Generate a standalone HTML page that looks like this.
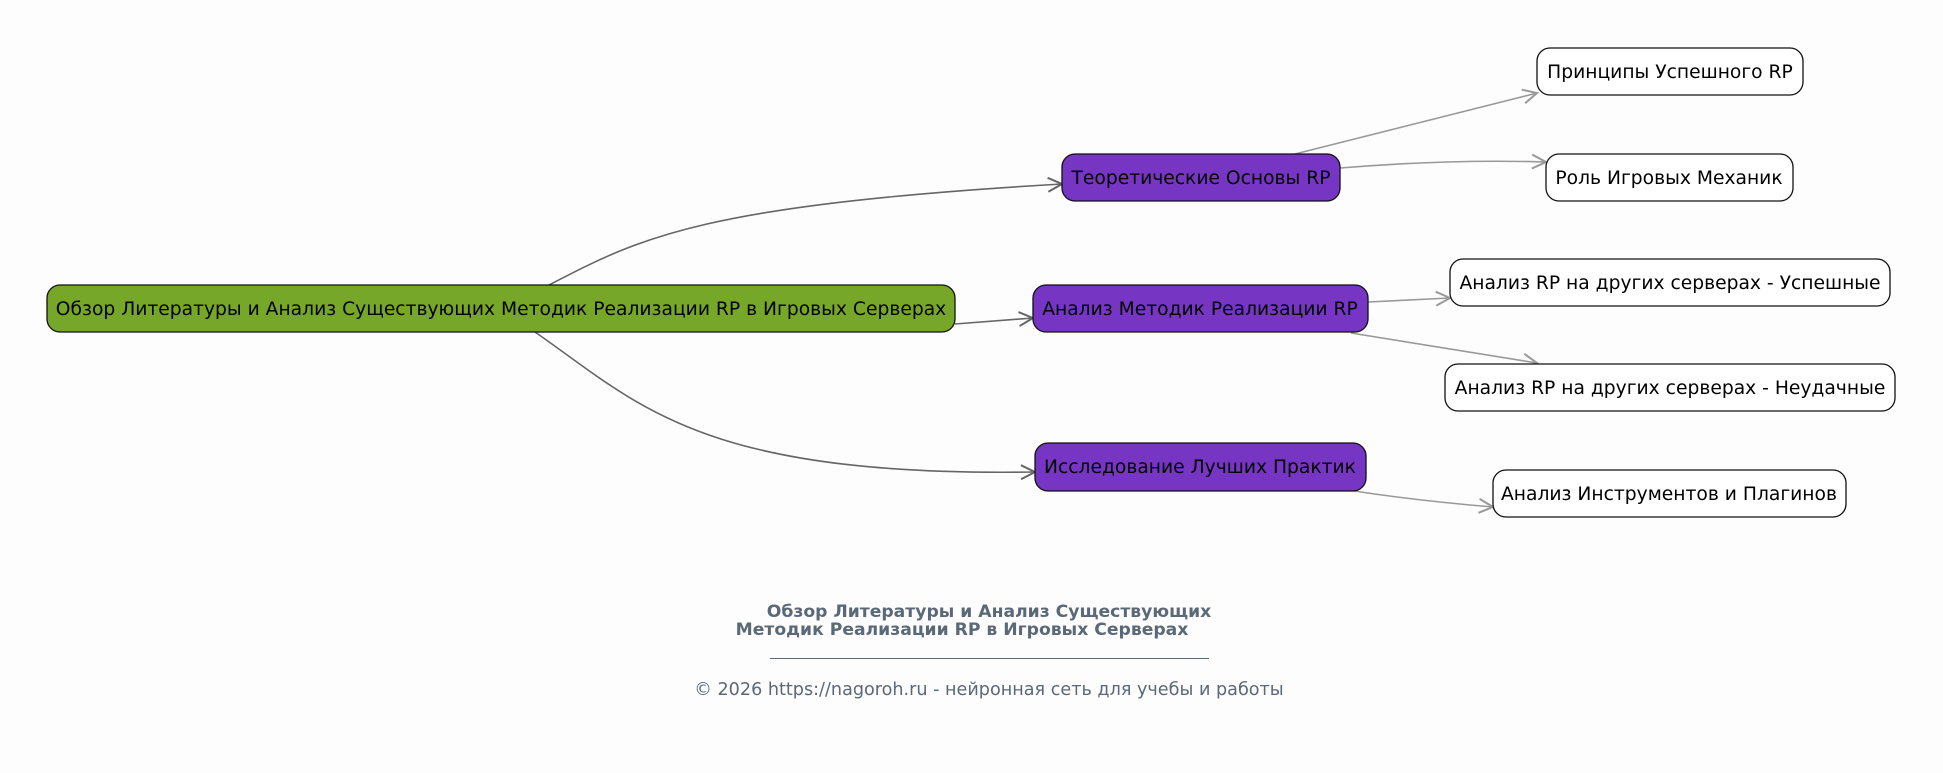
<!DOCTYPE html>
<html><head><meta charset="utf-8"><style>
html,body{margin:0;padding:0;background:#fdfdfd;}
svg{display:block;font-family:"DejaVu Sans","Liberation Sans",sans-serif;}
</style></head><body>
<svg width="1943" height="773" viewBox="0 0 1943 773" xmlns="http://www.w3.org/2000/svg">
<defs>
<marker id="a1" markerWidth="20" markerHeight="16" refX="17" refY="8" orient="auto" markerUnits="userSpaceOnUse">
<path d="M3,1 L17,8 L3,15" fill="none" stroke="#666" stroke-width="2"/></marker>
<marker id="a2" markerWidth="20" markerHeight="16" refX="17" refY="8" orient="auto" markerUnits="userSpaceOnUse">
<path d="M3,1 L17,8 L3,15" fill="none" stroke="#999" stroke-width="2"/></marker>
</defs>
<rect width="1943" height="773" fill="#fdfdfd"/>
<g fill="none" stroke-width="1.6">
<path d="M549,285 C640,238 700,205 1062,184" stroke="#666" marker-end="url(#a1)"/>
<path d="M955,324 L1033,318" stroke="#666" marker-end="url(#a1)"/>
<path d="M535,332 C640,405 700,477 1035,472" stroke="#666" marker-end="url(#a1)"/>
<path d="M1295,154 L1537,93" stroke="#999" marker-end="url(#a2)"/>
<path d="M1340,168 Q1450,159 1546,162" stroke="#999" marker-end="url(#a2)"/>
<path d="M1368,302 L1450,298" stroke="#999" marker-end="url(#a2)"/>
<path d="M1351,333 L1537,363" stroke="#999" marker-end="url(#a2)"/>
<path d="M1354,491 Q1420,501 1493,507" stroke="#999" marker-end="url(#a2)"/>
</g>
<g stroke="#111" stroke-width="1.3">
<rect x="47" y="285" width="908" height="47" rx="13" fill="#76a728"/>
<rect x="1062" y="154" width="278" height="47" rx="13" fill="#7636c3"/>
<rect x="1033" y="285" width="335" height="47" rx="13" fill="#7636c3"/>
<rect x="1035" y="443" width="331" height="48" rx="13" fill="#7636c3"/>
<rect x="1537" y="48" width="266" height="47" rx="13" fill="#fff"/>
<rect x="1546" y="154" width="247" height="47" rx="13" fill="#fff"/>
<rect x="1450" y="259" width="440" height="47" rx="13" fill="#fff"/>
<rect x="1445" y="364" width="450" height="47" rx="13" fill="#fff"/>
<rect x="1493" y="470" width="353" height="47" rx="13" fill="#fff"/>
</g>
<g font-size="18.7" text-anchor="middle" fill="#000">
<text x="501" y="315">Обзор Литературы и Анализ Существующих Методик Реализации RP в Игровых Серверах</text>
<text x="1201" y="184">Теоретические Основы RP</text>
<text x="1200" y="315">Анализ Методик Реализации RP</text>
<text x="1200" y="473">Исследование Лучших Практик</text>
<text x="1670" y="78">Принципы Успешного RP</text>
<text x="1669" y="184">Роль Игровых Механик</text>
<text x="1670" y="289">Анализ RP на других серверах - Успешные</text>
<text x="1670" y="394">Анализ RP на других серверах - Неудачные</text>
<text x="1669" y="500">Анализ Инструментов и Плагинов</text>
</g>
<g fill="#5a6878">
<text x="989" y="617" font-size="17.2" font-weight="bold" text-anchor="middle">Обзор Литературы и Анализ Существующих</text>
<text x="962" y="635" font-size="17.2" font-weight="bold" text-anchor="middle">Методик Реализации RP в Игровых Серверах</text>
<rect x="770" y="658" width="439" height="1"/>
<text x="989" y="695" font-size="17.6" text-anchor="middle">© 2026 https://nagoroh.ru - нейронная сеть для учебы и работы</text>
</g>
</svg>
</body></html>
